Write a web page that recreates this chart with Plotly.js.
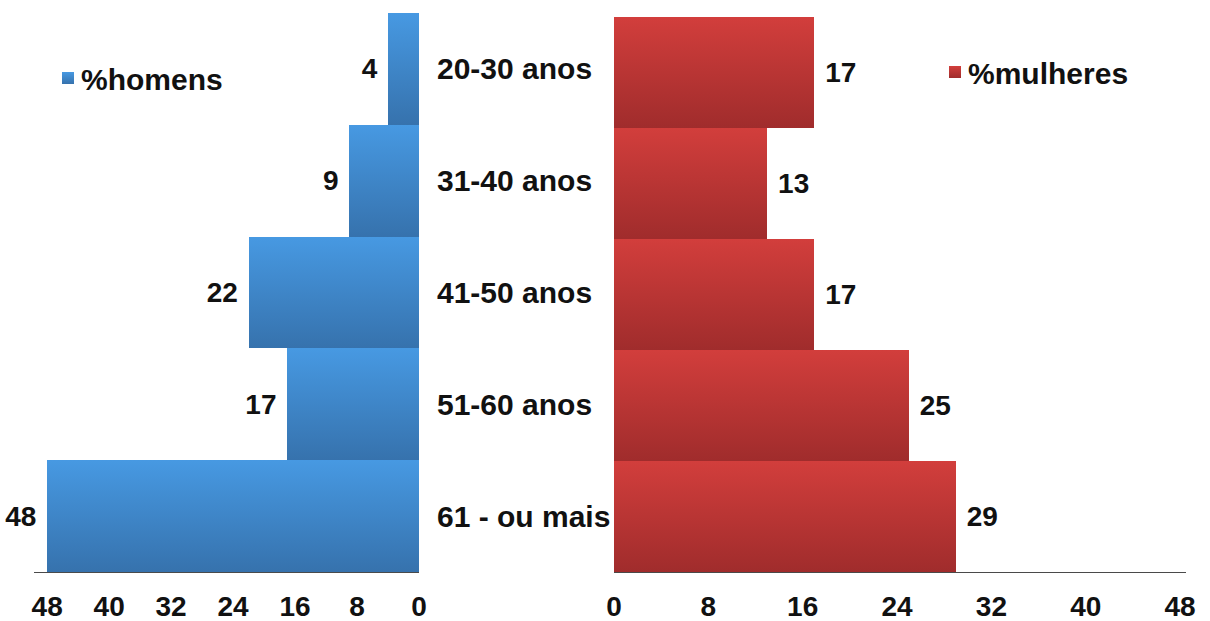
<!DOCTYPE html>
<html>
<head>
<meta charset="utf-8">
<script src="https://cdn.plot.ly/plotly-3.0.1.min.js"></script>
<style>
  html, body { margin: 0; padding: 0; background: #ffffff; }
  #chart { width: 1210px; height: 621px; }
</style>
</head>
<body>
<div id="chart"></div>
<script>
// Age groups, top to bottom
const ageGroups = ['20-30 anos', '31-40 anos', '41-50 anos', '51-60 anos', '61 - ou mais'];
// Share of men and women in each age group (%)
const menPct = [4, 9, 22, 17, 48];
const womenPct = [17, 13, 17, 25, 29];
// Value ticks shared by both panels
const pctTicks = [0, 8, 16, 24, 32, 40, 48];

const W = 1210, H = 621;
const FONT = 'Liberation Sans, Arial, sans-serif';
const boldFont = (size, color) => ({ family: FONT, size: size, weight: 'bold', color: color || '#111111' });

const men = {
  type: 'bar', orientation: 'h',
  name: '%homens', legend: 'legend',
  x: menPct, y: ageGroups, xaxis: 'x', yaxis: 'y',
  marker: { color: '#3f86cf', line: { width: 0 } },
  texttemplate: '%{x}\u00a0',
  textposition: 'outside', cliponaxis: false,
  textfont: boldFont(28),
  hoverinfo: 'skip'
};

const women = {
  type: 'bar', orientation: 'h',
  name: '%mulheres', legend: 'legend2',
  x: womenPct, y: ageGroups, xaxis: 'x2', yaxis: 'y2',
  marker: { color: '#bd3535', line: { width: 0 } },
  texttemplate: '\u00a0%{x}',
  textposition: 'outside', cliponaxis: false,
  textfont: boldFont(28),
  hoverinfo: 'skip'
};

const valueAxis = (x0, x1, range) => ({
  domain: [x0 / W, x1 / W],
  range: range,
  tickvals: pctTicks,
  ticktext: pctTicks.map(String),
  showgrid: false, zeroline: false,
  showline: true, linecolor: '#4a4a4a', linewidth: 1,
  ticks: '',
  ticklabelstandoff: 9,
  tickfont: boldFont(28),
  fixedrange: true
});

const layout = {
  width: W, height: H,
  margin: { l: 0, r: 0, t: 0, b: 0 },
  paper_bgcolor: '#ffffff', plot_bgcolor: '#ffffff',
  bargap: 0,
  showlegend: true,
  xaxis: valueAxis(34, 419, [49.7, 0]),
  xaxis2: valueAxis(614, 1186, [0, 48.5]),
  yaxis: {
    domain: [(H - 572) / H, (H - 13) / H],
    anchor: 'x', side: 'right',
    type: 'category', categoryorder: 'array', categoryarray: ageGroups,
    range: [4.5, -0.5],
    showgrid: false, zeroline: false, showline: false, ticks: '',
    ticklabelstandoff: 17,
    tickfont: boldFont(30),
    fixedrange: true
  },
  yaxis2: {
    domain: [(H - 572) / H, (H - 17) / H],
    anchor: 'x2',
    type: 'category', categoryorder: 'array', categoryarray: ageGroups,
    range: [4.5, -0.5],
    showgrid: false, zeroline: false, showline: false, ticks: '',
    showticklabels: false,
    fixedrange: true
  },
  legend: {
    x: 41 / W, y: 1 - 78 / H, xanchor: 'left', yanchor: 'middle',
    bgcolor: 'rgba(0,0,0,0)', borderwidth: 0,
    font: boldFont(30), itemwidth: 30
  },
  legend2: {
    x: 928 / W, y: 1 - 72 / H, xanchor: 'left', yanchor: 'middle',
    bgcolor: 'rgba(0,0,0,0)', borderwidth: 0,
    font: boldFont(30), itemwidth: 30
  }
};

// Vertical shading for each bar: lighter at the top, deeper at the bottom
function addGradients(gd) {
  const svg = gd.querySelector('svg.main-svg');
  const NS = 'http://www.w3.org/2000/svg';
  let defs = svg.querySelector('defs');
  if (!defs) { defs = document.createElementNS(NS, 'defs'); svg.insertBefore(defs, svg.firstChild); }
  const grads = {
    gradMen: ['#4799e2', '#3672ad'],
    gradWomen: ['#d23e3c', '#a02c2c']
  };
  Object.keys(grads).forEach(id => {
    const g = document.createElementNS(NS, 'linearGradient');
    g.setAttribute('id', id);
    g.setAttribute('x1', '0'); g.setAttribute('y1', '0');
    g.setAttribute('x2', '0'); g.setAttribute('y2', '1');
    [['0', grads[id][0]], ['1', grads[id][1]]].forEach(([off, col]) => {
      const s = document.createElementNS(NS, 'stop');
      s.setAttribute('offset', off); s.setAttribute('stop-color', col);
      g.appendChild(s);
    });
    defs.appendChild(g);
  });
  const traces = gd.querySelectorAll('.barlayer .trace.bars');
  traces.forEach((t, i) => {
    const id = i === 0 ? 'gradMen' : 'gradWomen';
    t.querySelectorAll('.point path').forEach(p => { p.style.fill = 'url(#' + id + ')'; });
  });
  // Legend swatches get the same shading and sit a little closer to their labels
  const legendIds = { legend: 'gradMen', legend2: 'gradWomen' };
  Object.keys(legendIds).forEach(cls => {
    gd.querySelectorAll('.' + cls + ' .legendpoints').forEach(g => {
      g.setAttribute('transform', 'translate(7,0)');
      g.querySelectorAll('path').forEach(p => { p.style.fill = 'url(#' + legendIds[cls] + ')'; });
    });
  });
}

const gd = document.getElementById('chart');
Plotly.newPlot(gd, [men, women], layout, { staticPlot: true, displayModeBar: false })
  .then(() => addGradients(gd));
</script>
</body>
</html>
